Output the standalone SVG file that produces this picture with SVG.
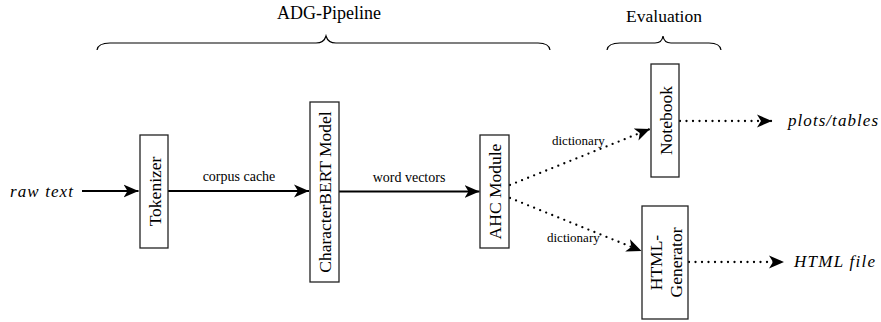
<svg xmlns="http://www.w3.org/2000/svg" width="881" height="322" viewBox="0 0 881 322" font-family="'Liberation Serif', 'Times New Roman', serif">
<style>
text{font-family:"Liberation Serif","Times New Roman",serif;fill:#000}
.node rect{fill:#fff;stroke:#222;stroke-width:1.3}
.lbl{font-family:"Liberation Serif",serif;font-size:17.5px;text-anchor:middle}
.elbl{font-family:"Liberation Serif",serif;font-size:14px;text-anchor:middle}
.dlbl{font-family:"Liberation Serif",serif;font-size:13px}
.math{font-family:"Liberation Serif",serif;font-size:17px;font-style:italic}
.title{font-family:"Liberation Serif",serif;font-size:18px;text-anchor:middle}
.solid{fill:none;stroke:#000;stroke-width:2;marker-end:url(#stealth)}
.dot{fill:none;stroke:#000;stroke-width:2.3;stroke-linecap:round;stroke-dasharray:0 6.5;marker-end:url(#stealth)}
.brace{fill:none;stroke:#000;stroke-width:1.2}
</style>
<defs>
<marker id="stealth" markerUnits="userSpaceOnUse" viewBox="0 -7 16 14" markerWidth="16" markerHeight="14" refX="15" refY="0" orient="auto">
<path d="M0,-6.5 L15,0 L0,6.5 L4,0 z" fill="#000" stroke="none"/>
</marker>
</defs>

<g id="titles">
<text class="title" x="329" y="19" font-family="Liberation Serif">ADG-Pipeline</text>
<path class="brace" d="M97,50 Q98,43 110,43 L316,43 Q324,43 326,36 Q328,43 336,43 L538,43 Q549,43 550,50"/>
<text class="title" x="664" y="22" style="font-size:17.5px" font-family="Liberation Serif">Evaluation</text>
<path class="brace" d="M607,50 Q608,43 620,43 L655,43 Q662,43 663,36 Q664,43 671,43 L709,43 Q720,43 721,50"/>
</g>

<g id="connectors">
<path class="solid" d="M82,191 L138.5,191"/>
<path class="solid" d="M168,191 L309,191"/>
<path class="solid" d="M339,191.5 L479.5,191.5"/>
<path class="dot" d="M510,185 L650,129"/>
<path class="dot" d="M510,198 L641.5,251"/>
<path class="dot" d="M680,121 L772,121"/>
<path class="dot" d="M689,262 L784,262"/>
<text class="elbl" x="239" y="181" font-family="Liberation Serif">corpus cache</text>
<text class="elbl" x="409" y="182" font-family="Liberation Serif">word vectors</text>
<text class="dlbl" x="552" y="145" font-family="Liberation Serif">dictionary</text>
<text class="dlbl" x="547" y="242" font-family="Liberation Serif">dictionary</text>
</g>

<g id="raw-text"><text class="math" x="10" y="197" textLength="63" lengthAdjust="spacing" font-family="Liberation Serif">raw text</text></g>
<g id="plots-tables"><text class="math" x="788" y="126" textLength="90" lengthAdjust="spacing" font-family="Liberation Serif">plots/tables</text></g>
<g id="html-file"><text class="math" x="794" y="267" textLength="81" lengthAdjust="spacing" font-family="Liberation Serif">HTML file</text></g>

<g id="tokenizer" class="node">
<rect x="140" y="135" width="28" height="113"/>
<text class="lbl" transform="translate(154,191.5) rotate(-90)" x="0" y="6.5" font-family="Liberation Serif">Tokenizer</text>
</g>
<g id="characterbert" class="node">
<rect x="310" y="102" width="29" height="180"/>
<text class="lbl" transform="translate(324.5,192) rotate(-90)" x="0" y="6.5" font-family="Liberation Serif">CharacterBERT Model</text>
</g>
<g id="ahc" class="node">
<rect x="480" y="135" width="29" height="113"/>
<text class="lbl" transform="translate(494.5,191.5) rotate(-90)" x="0" y="6.5" font-family="Liberation Serif">AHC Module</text>
</g>
<g id="notebook" class="node">
<rect x="651" y="64" width="28" height="113"/>
<text class="lbl" transform="translate(665,120.5) rotate(-90)" x="0" y="6.5" font-family="Liberation Serif">Notebook</text>
</g>
<g id="html-generator" class="node">
<rect x="642" y="206" width="46" height="113"/>
<text class="lbl" transform="translate(665,262.5) rotate(-90)" x="0" y="-3.5" font-family="Liberation Serif">HTML-</text>
<text class="lbl" transform="translate(665,262.5) rotate(-90)" x="0" y="16.5" font-family="Liberation Serif">Generator</text>
</g>
</svg>
